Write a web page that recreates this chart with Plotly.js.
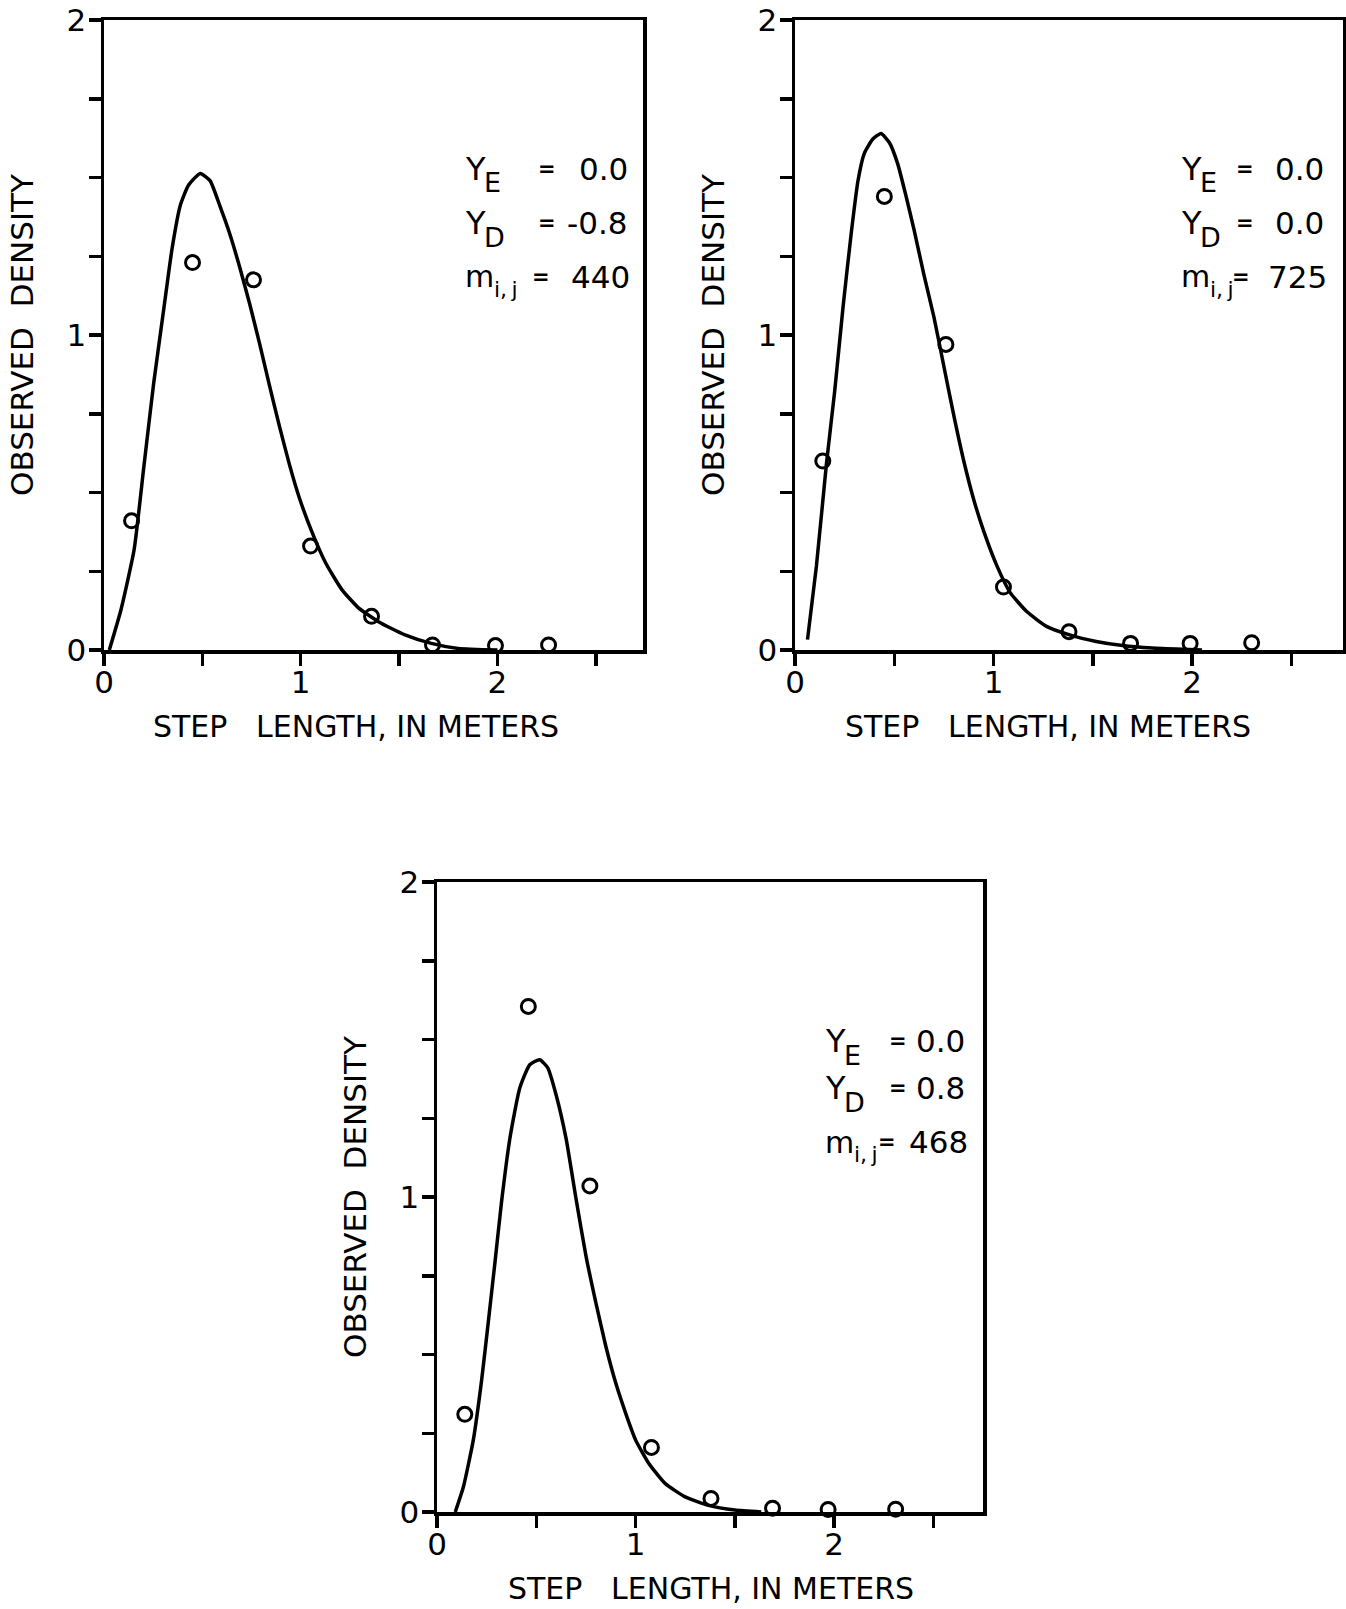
<!DOCTYPE html>
<html>
<head>
<meta charset="utf-8">
<script src="https://cdn.plot.ly/plotly-3.0.1.min.js"></script>
<style>
  html, body { margin: 0; padding: 0; background: #ffffff; }
  #chart { width: 1346px; height: 1609px; }
</style>
</head>
<body>
<div id="chart"></div>
<script>
// ---------------- DATA ----------------
// Panel A (top left): Y_E = 0.0, Y_D = -0.8, m = 440
const aObsX = [0.14, 0.45, 0.76, 1.05, 1.36, 1.67, 1.99, 2.26];
const aObsY = [0.41, 1.23, 1.175, 0.33, 0.107, 0.016, 0.014, 0.016];
const aFitX = [0.027, 0.086, 0.153, 0.203, 0.253, 0.304, 0.346, 0.388, 0.43, 0.489, 0.539, 0.589, 0.64, 0.69, 0.74, 0.79, 0.841, 0.892, 0.942, 0.992, 1.06, 1.127, 1.21, 1.295, 1.395, 1.53, 1.664, 1.80, 2.0];
const aFitY = [0.0, 0.127, 0.318, 0.584, 0.849, 1.083, 1.274, 1.412, 1.476, 1.513, 1.49, 1.41, 1.32, 1.215, 1.10, 0.975, 0.84, 0.71, 0.59, 0.485, 0.37, 0.276, 0.191, 0.133, 0.09, 0.048, 0.021, 0.005, 0.0];

// Panel B (top right): Y_E = 0.0, Y_D = 0.0, m = 725
const bObsX = [0.14, 0.45, 0.76, 1.05, 1.38, 1.69, 1.99, 2.30];
const bObsY = [0.60, 1.44, 0.97, 0.20, 0.058, 0.021, 0.021, 0.023];
const bFitX = [0.063, 0.108, 0.158, 0.2, 0.242, 0.283, 0.317, 0.35, 0.392, 0.433, 0.475, 0.517, 0.558, 0.60, 0.65, 0.70, 0.75, 0.80, 0.85, 0.90, 0.95, 1.017, 1.083, 1.167, 1.267, 1.383, 1.517, 1.65, 1.8, 1.95, 2.05];
const bFitY = [0.033, 0.267, 0.589, 0.822, 1.089, 1.322, 1.489, 1.578, 1.622, 1.64, 1.611, 1.544, 1.444, 1.333, 1.189, 1.056, 0.90, 0.744, 0.60, 0.478, 0.378, 0.267, 0.183, 0.122, 0.075, 0.048, 0.027, 0.014, 0.006, 0.002, 0.0];

// Panel C (bottom): Y_E = 0.0, Y_D = 0.8, m = 468
const cObsX = [0.14, 0.46, 0.77, 1.08, 1.38, 1.69, 1.97, 2.31];
const cObsY = [0.31, 1.605, 1.035, 0.205, 0.043, 0.012, 0.008, 0.009];
const cFitX = [0.092, 0.133, 0.183, 0.225, 0.258, 0.292, 0.325, 0.367, 0.417, 0.467, 0.517, 0.558, 0.60, 0.65, 0.70, 0.75, 0.80, 0.85, 0.90, 0.95, 1.0, 1.067, 1.15, 1.25, 1.367, 1.50, 1.633];
const cFitY = [0.0, 0.08, 0.229, 0.42, 0.601, 0.793, 0.984, 1.186, 1.346, 1.42, 1.436, 1.41, 1.324, 1.186, 0.995, 0.814, 0.665, 0.527, 0.41, 0.314, 0.229, 0.154, 0.09, 0.048, 0.021, 0.006, 0.0];

// Tick marks / labels
const xMajorStep = 1, xMinorStep = 0.5;   // labels 0, 1, 2 ; marks every 0.5
const yMajorStep = 1, yMinorStep = 0.25;  // labels 0, 1, 2 ; marks every 0.25

// Texts
const xTitleText = 'STEP\u00A0\u00A0\u00A0LENGTH,\u00A0IN METERS';
const yTitleText = 'OBSERVED\u00A0\u00A0DENSITY';
const paramMain = ['Y', 'Y', 'm'];
const paramSub = ['E', 'D', 'i,\u2009j'];
const aParamValues = ['0.0', '-0.8', '440'];
const bParamValues = ['0.0', '0.0', '725'];
const cParamValues = ['0.0', '0.8', '468'];

// ---------------- LAYOUT HELPERS ----------------
const W = 1346, H = 1609;
const FONT = 'DejaVu Sans, Liberation Sans, sans-serif';
const px = v => v / W;
const py = v => 1 - v / H;
const LW = 3.5;

function xAxis(dom, rng, anchor) {
  return {
    domain: [px(dom[0]), px(dom[1])], range: rng, anchor: anchor,
    tickmode: 'linear', tick0: 0, dtick: xMajorStep,
    ticks: 'outside', ticklen: 12, tickwidth: LW, tickcolor: 'black',
    minor: { tick0: 0, dtick: xMinorStep, ticks: 'outside', ticklen: 12, tickwidth: LW, tickcolor: 'black', showgrid: false },
    ticklabelstandoff: -10,
    showline: true, linecolor: 'black', linewidth: LW, mirror: true,
    showgrid: false, zeroline: false, fixedrange: true,
    tickfont: { family: FONT, size: 31, color: 'black' }
  };
}
function yAxis(dom, anchor) {
  return {
    domain: [py(dom[1]), py(dom[0])], range: [0, 2], anchor: anchor,
    tickmode: 'linear', tick0: 0, dtick: yMajorStep,
    ticks: 'outside', ticklen: 12, tickwidth: LW, tickcolor: 'black',
    minor: { tick0: 0, dtick: yMinorStep, ticks: 'outside', ticklen: 12, tickwidth: LW, tickcolor: 'black', showgrid: false },
    ticklabelstandoff: -4,
    showline: true, linecolor: 'black', linewidth: LW, mirror: true,
    showgrid: false, zeroline: false, fixedrange: true,
    tickfont: { family: FONT, size: 31, color: 'black' },
    title: { text: yTitleText, font: { family: FONT, size: 31, color: 'black' }, standoff: 24 }
  };
}

function fitTrace(x, y, xa, ya) {
  return { x: x, y: y, xaxis: xa, yaxis: ya, type: 'scatter', mode: 'lines',
           line: { color: 'black', width: 3.5, shape: 'spline', smoothing: 0.5 },
           hoverinfo: 'skip', cliponaxis: false };
}
function obsTrace(x, y, xa, ya) {
  return { x: x, y: y, xaxis: xa, yaxis: ya, type: 'scatter', mode: 'markers',
           marker: { symbol: 'circle-open', size: 14, color: 'black', line: { color: 'black', width: 3 } },
           cliponaxis: false };
}

const data = [
  fitTrace(aFitX, aFitY, 'x', 'y'), obsTrace(aObsX, aObsY, 'x', 'y'),
  fitTrace(bFitX, bFitY, 'x2', 'y2'), obsTrace(bObsX, bObsY, 'x2', 'y2'),
  fitTrace(cFitX, cFitY, 'x3', 'y3'), obsTrace(cObsX, cObsY, 'x3', 'y3')
];

const ann = (x, y, text, size, xanchor, extra) => Object.assign({
  xref: 'paper', yref: 'paper', x: px(x), y: py(y), xanchor: xanchor, yanchor: 'middle',
  text: text, showarrow: false, font: { family: FONT, size: size, color: 'black' }
}, extra || {});

// parameter text blocks (positions in page pixels)
const blocks = [
  { vals: aParamValues, symL: 463, eqC: [547, 547, 541], valR: [630, 630, 632], rows: [169, 223, 277] },
  { vals: bParamValues, symL: 1179, eqC: [1245, 1245, 1241], valR: [1326, 1326, 1329], rows: [169, 223, 277] },
  { vals: cParamValues, symL: 823, eqC: [898, 898, 887], valR: [967, 967, 970], rows: [1041, 1088, 1142] }
];
const annotations = [];
blocks.forEach(b => {
  b.rows.forEach((r, i) => {
    const isM = i === 2;
    annotations.push(ann(b.symL, r, paramMain[i], isM ? 30 : 32, 'left'));
    annotations.push(ann(b.symL + (isM ? 29 : 19), r + (isM ? 12 : 14), paramSub[i], isM ? 22 : 27, 'left'));
    annotations.push(ann(b.eqC[i], r, '<b>=</b>', 21, 'center'));
    annotations.push(ann(b.valR[i], r, b.vals[i], 31, 'right'));
  });
});

// x-axis titles (placed as in the reference, slightly left of centre on the top panels)
const xTitlePos = [[356, 726], [1048, 726], [711, 1588]];
xTitlePos.forEach(p => annotations.push(ann(p[0], p[1], xTitleText, 30, 'center')));

const layout = {
  width: W, height: H,
  margin: { l: 0, r: 0, t: 0, b: 0 },
  paper_bgcolor: 'white', plot_bgcolor: 'white',
  showlegend: false,
  font: { family: FONT, color: 'black' },
  xaxis: xAxis([104, 643], [0, 2.74], 'y'),
  yaxis: yAxis([20, 650], 'x'),
  xaxis2: xAxis([795, 1343], [0, 2.76], 'y2'),
  yaxis2: yAxis([20, 650], 'x2'),
  xaxis3: xAxis([437, 983], [0, 2.75], 'y3'),
  yaxis3: yAxis([882, 1512], 'x3'),
  annotations: annotations
};

Plotly.newPlot('chart', data, layout, { displayModeBar: false, staticPlot: true });
</script>
</body>
</html>
